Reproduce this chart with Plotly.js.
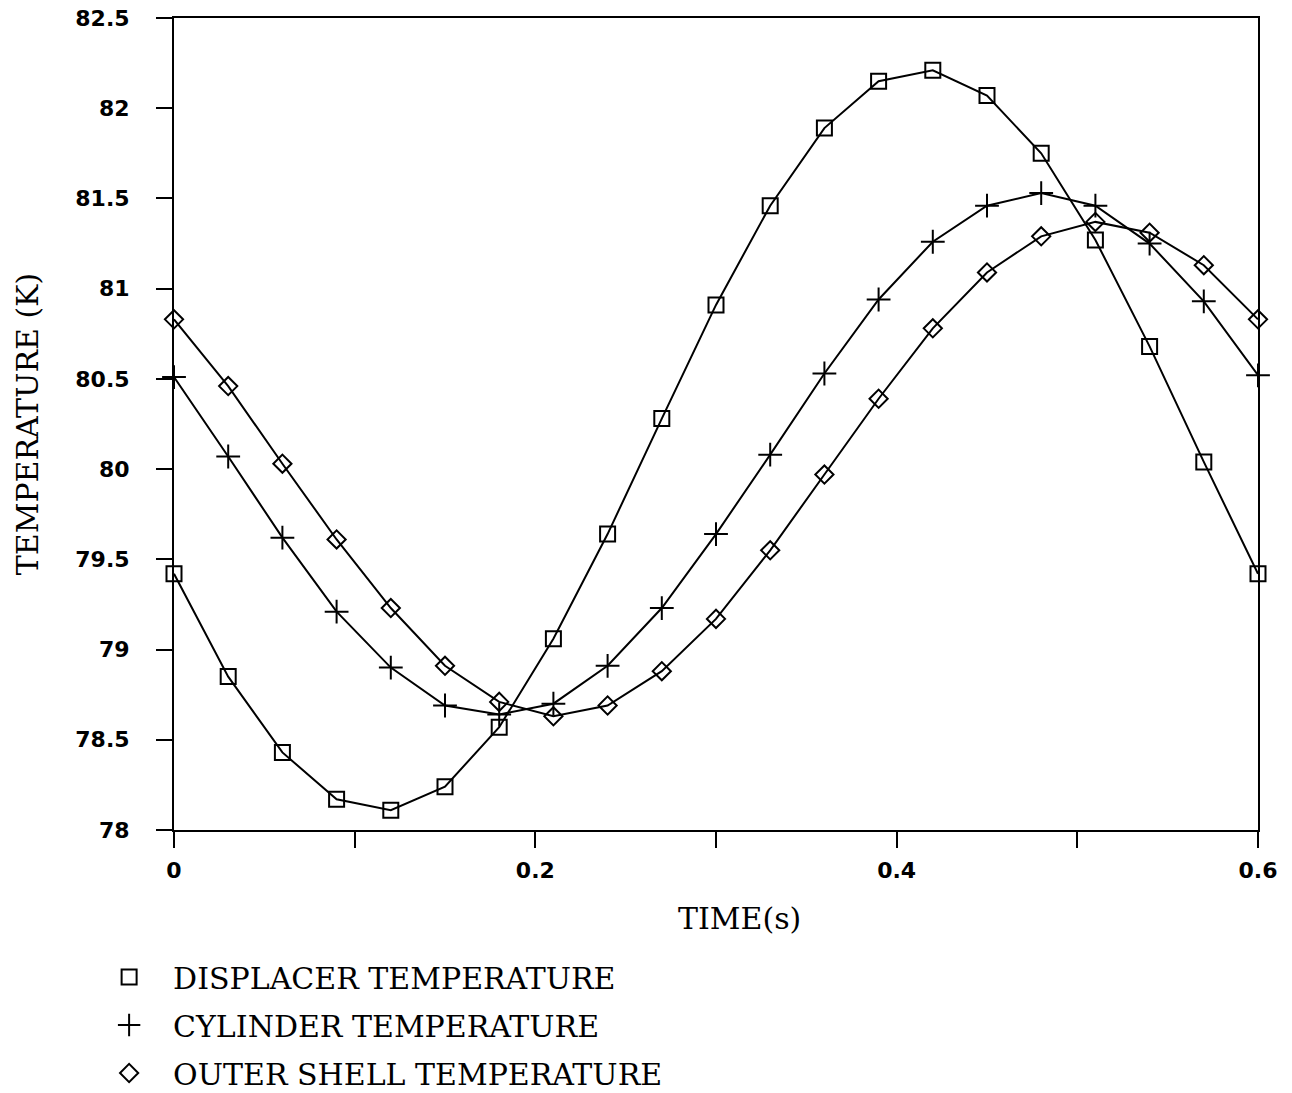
<!DOCTYPE html>
<html>
<head>
<meta charset="utf-8">
<script src="https://cdn.plot.ly/plotly-3.0.1.min.js"></script>
<style>html,body{margin:0;padding:0;background:#fff;}#chart{width:1292px;height:1093px;}</style>
</head>
<body>
<div id="chart"></div>
<script>
const time = [0, 0.03, 0.06, 0.09, 0.12, 0.15, 0.18, 0.21, 0.24, 0.27, 0.30, 0.33, 0.36, 0.39, 0.42, 0.45, 0.48, 0.51, 0.54, 0.57, 0.60];
const displacerTemp = [79.42, 78.85, 78.43, 78.17, 78.11, 78.24, 78.57, 79.06, 79.64, 80.28, 80.91, 81.46, 81.89, 82.15, 82.21, 82.07, 81.75, 81.27, 80.68, 80.04, 79.42];
const cylinderTemp = [80.51, 80.07, 79.62, 79.21, 78.90, 78.69, 78.64, 78.70, 78.91, 79.23, 79.64, 80.08, 80.53, 80.94, 81.26, 81.46, 81.53, 81.46, 81.25, 80.93, 80.52];
const shellTemp = [80.83, 80.46, 80.03, 79.61, 79.23, 78.91, 78.71, 78.63, 78.69, 78.88, 79.17, 79.55, 79.97, 80.39, 80.78, 81.09, 81.29, 81.37, 81.31, 81.13, 80.83];
const seriesNames = ['DISPLACER TEMPERATURE', 'CYLINDER TEMPERATURE', 'OUTER SHELL TEMPERATURE'];
const xTitle = 'TIME(s)';
const yTitle = 'TEMPERATURE (K)';
const xTickVals = [0, 0.1, 0.2, 0.3, 0.4, 0.5, 0.6];
const xTickText = ['0', '', '0.2', '', '0.4', '', '0.6'];
const yTickVals = [78, 78.5, 79, 79.5, 80, 80.5, 81, 81.5, 82, 82.5];
const yTickText = ['78', '78.5', '79', '79.5', '80', '80.5', '81', '81.5', '82', '82.5'];

const series = [displacerTemp, cylinderTemp, shellTemp];
const symbols = ['square-open', 'cross-thin-open', 'diamond-open'];
const sizes = [15, 17, 14];

const traces = [];
series.forEach((ys, i) => {
  traces.push({
    x: time, y: ys, type: 'scatter', mode: 'lines+markers',
    line: {color: '#000', width: 2},
    marker: {symbol: symbols[i], size: sizes[i], color: '#000', line: {color: '#000', width: 2}},
    cliponaxis: false, showlegend: false, name: seriesNames[i]
  });
});
series.forEach((ys, i) => {
  traces.push({
    x: [null], y: [null], type: 'scatter', mode: 'markers',
    marker: {symbol: symbols[i], size: sizes[i], color: '#000', line: {color: '#000', width: 2}},
    showlegend: true, name: seriesNames[i], legendgroup: 'g' + i
  });
});

const tickFont = {family: 'DejaVu Sans, sans-serif', size: 22, color: '#000', weight: 'bold'};
const serifFont = {family: 'DejaVu Serif, serif', size: 30, color: '#000'};

const layout = {
  width: 1292, height: 1093,
  paper_bgcolor: '#fff', plot_bgcolor: '#fff',
  margin: {l: 174, r: 34, t: 18, b: 263, autoexpand: false},
  xaxis: {
    range: [0, 0.6], tickvals: xTickVals, ticktext: xTickText,
    ticks: 'outside', ticklen: 16, tickwidth: 2, tickcolor: '#000',
    showline: true, linewidth: 2, linecolor: '#000', mirror: true,
    showgrid: false, zeroline: false, tickfont: tickFont, ticklabelstandoff: 4,
    automargin: false
  },
  yaxis: {
    range: [78, 82.5], tickvals: yTickVals, ticktext: yTickText,
    ticks: 'outside', ticklen: 16, tickwidth: 2, tickcolor: '#000',
    showline: true, linewidth: 2, linecolor: '#000', mirror: true,
    showgrid: false, zeroline: false, tickfont: tickFont, ticklabelstandoff: 22,
    title: {text: yTitle, font: serifFont, standoff: 28},
    automargin: false
  },
  annotations: [{
    text: xTitle, xref: 'paper', yref: 'paper', x: 0.522, y: -0.109,
    xanchor: 'center', yanchor: 'middle', showarrow: false, font: serifFont
  }],
  showlegend: true,
  legend: {
    x: -0.082, y: -0.149, xanchor: 'left', yanchor: 'top', itemwidth: 78,
    font: serifFont, tracegroupgap: 6, bgcolor: 'rgba(0,0,0,0)'
  }
};

Plotly.newPlot('chart', traces, layout, {displayModeBar: false, staticPlot: true});
</script>
</body>
</html>
